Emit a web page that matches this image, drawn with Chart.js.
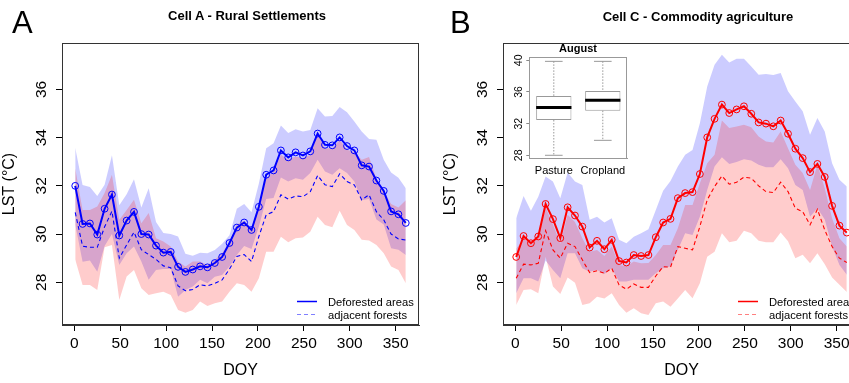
<!DOCTYPE html>
<html>
<head>
<meta charset="utf-8">
<script src="https://cdn.jsdelivr.net/npm/chart.js@4.4.1/dist/chart.umd.min.js"></script>
<style>
html,body{margin:0;padding:0;overflow:hidden;background:#fff;}
body{width:849px;height:383px;position:relative;font-family:"Liberation Sans",Arial,sans-serif;color:#000;}
.abs{position:absolute;white-space:nowrap;line-height:1;}
.panel{position:absolute;top:0;width:430px;height:383px;}
.lg{position:absolute;width:22px;height:20px;}
</style>
</head>
<body>
<div class="panel" style="left:0"><canvas id="cA" width="430" height="383"></canvas></div>
<div class="panel" style="left:441px"><canvas id="cB" width="430" height="383"></canvas></div>
<div style="position:absolute;left:500px;top:40px;width:140px;height:140px"><canvas id="cI" width="140" height="140"></canvas></div>

<div class="abs" style="left:12px;top:7px;font-size:31px">A</div>
<div class="abs" style="left:450px;top:7px;font-size:31px">B</div>
<div class="abs" style="left:147px;top:9px;width:200px;text-align:center;font-size:13px;font-weight:bold">Cell A - Rural Settlements</div>
<div class="abs" style="left:578px;top:10px;width:240px;text-align:center;font-size:13px;font-weight:bold">Cell C - Commodity agriculture</div>
<div class="abs" style="left:538px;top:43px;width:80px;text-align:center;font-size:11px;font-weight:bold">August</div>

<svg class="lg" style="left:296px;top:295px" width="22" height="22"><line x1="1" y1="6.5" x2="21" y2="6.5" stroke="#0000ff" stroke-width="1.5"/><line x1="1" y1="20" x2="21" y2="20" stroke="#0000ff" stroke-width="1.2" stroke-dasharray="4,3"/></svg>
<div class="abs" style="left:328px;top:296.5px;font-size:11.2px">Deforested areas</div>
<div class="abs" style="left:328px;top:309.8px;font-size:11.2px">adjacent forests</div>
<svg class="lg" style="left:737px;top:295px" width="22" height="22"><line x1="1" y1="6.5" x2="21" y2="6.5" stroke="#ff0000" stroke-width="1.5"/><line x1="1" y1="20" x2="21" y2="20" stroke="#ff0000" stroke-width="1.2" stroke-dasharray="4,3"/></svg>
<div class="abs" style="left:769px;top:296.5px;font-size:11.2px">Deforested areas</div>
<div class="abs" style="left:769px;top:309.8px;font-size:11.2px">adjacent forests</div>

<script>
// ---- data ----
const doy = [1,9,17,25,33,41,49,57,65,73,81,89,97,105,113,121,129,137,145,153,161,169,177,185,193,201,209,217,225,233,241,249,257,265,273,281,289,297,305,313,321,329,337,345,353,361];
const xTicks = [0,50,100,150,200,250,300,350];
const yTicks = [28,30,32,34,36];

// Panel A - Cell A (Rural settlements)
const aDef   = [32.0,30.42,30.44,29.98,31.05,31.64,29.94,30.56,30.92,30.0,29.98,29.52,29.23,29.26,28.64,28.43,28.53,28.66,28.62,28.8,29.05,29.63,30.27,30.48,30.17,31.13,32.46,32.64,33.47,33.18,33.39,33.26,33.43,34.17,33.70,33.68,34.01,33.65,33.47,32.85,32.80,32.22,31.79,30.94,30.82,30.46];
const aFor   = [30.9,29.5,29.45,29.45,30.3,30.95,29.0,29.55,30.08,29.35,29.15,28.95,28.68,28.6,27.85,27.65,27.7,27.9,27.85,27.95,28.1,28.55,29.07,29.15,28.86,29.9,30.8,30.93,31.63,31.45,31.58,31.55,31.76,32.43,32.04,31.97,32.5,32.18,32.04,31.42,31.63,30.93,30.59,30.0,29.8,29.75];
const aDefHi = [33.58,32.04,31.95,31.58,32.05,33.27,31.2,31.65,32.27,31.1,31.9,30.5,30.04,30.0,29.9,29.18,29.1,29.23,29.2,29.34,29.6,29.95,31.05,31.25,30.9,32.1,33.56,33.77,34.5,34.19,34.35,34.25,34.32,35.22,34.88,34.9,35.27,35.05,34.67,34.25,33.94,33.91,33.08,32.55,32.34,31.9];
const aDefLo = [30.4,28.85,28.9,28.44,29.5,30.0,28.72,29.2,29.48,28.86,28.1,28.51,28.55,28.55,27.4,27.68,27.82,28.1,27.96,28.23,28.3,28.65,29.13,29.5,29.38,30.3,31.45,31.5,32.35,32.18,32.32,32.25,32.53,33.08,32.6,32.46,32.73,32.53,32.18,31.4,31.45,30.6,30.4,29.41,29.35,29.13];
const aForHi = [32.73,31.0,31.0,31.14,31.7,32.46,30.59,31.0,31.42,30.45,30.87,29.83,29.69,29.48,28.86,28.65,28.86,28.86,28.72,28.93,29.2,29.69,30.4,30.55,30.2,31.28,32.3,32.6,33.29,33.08,33.22,33.15,33.29,34.16,33.56,33.56,33.91,33.5,33.4,33.08,33.2,32.3,31.8,31.25,31.1,31.4];
const aForLo = [28.95,27.89,27.89,27.68,29.45,29.55,27.26,28.24,28.51,27.75,27.47,27.54,27.61,27.47,26.85,26.74,26.85,27.2,27.02,27.13,27.2,27.61,27.96,27.89,27.61,28.17,29.27,29.27,29.89,29.66,29.83,29.86,30.1,30.72,30.38,30.28,30.97,30.38,30.17,29.76,29.73,29.55,29.2,28.65,28.51,27.96];

// Panel B - Cell C (Commodity agriculture)
const bDef   = [29.05,29.92,29.62,29.9,31.25,30.62,29.83,31.11,30.77,30.31,29.44,29.72,29.37,29.76,28.88,28.82,29.13,29.09,29.13,29.87,30.48,30.63,31.49,31.7,31.74,32.49,34.01,34.78,35.37,35.02,35.17,35.3,34.99,34.63,34.58,34.47,34.71,34.16,33.54,33.15,32.57,32.91,32.37,31.17,30.35,30.06];
const bFor   = [28.17,28.75,28.72,28.79,30.14,29.34,29.0,29.62,29.48,28.93,28.4,28.48,28.37,28.58,27.89,27.71,27.93,27.79,27.79,28.26,28.65,28.62,29.48,29.41,29.34,30.31,31.42,31.97,32.41,32.07,32.15,32.36,32.32,32.0,31.76,31.72,32.15,31.76,31.07,30.93,30.38,31.03,30.17,29.48,29.0,28.82];
const bDefHi = [30.66,31.58,30.97,31.55,32.39,32.18,31.49,32.55,32.18,32.04,30.59,30.72,30.48,30.66,29.76,29.62,29.89,30.03,30.2,31.0,31.8,32.2,32.8,33.29,33.49,34.6,36.12,37.02,37.44,37.12,37.27,37.27,36.95,36.61,36.64,36.6,36.68,35.92,35.5,35.09,34.12,34.81,34.25,32.94,32.25,31.97];
const bDefLo = [27.54,28.17,28.17,28.03,28.9,28.51,28.17,29.2,29.2,28.58,28.44,28.51,28.34,28.58,28.03,28.03,28.1,28.1,28.1,28.37,28.58,28.65,29.34,30.03,29.96,30.72,31.83,32.8,33.19,32.91,32.99,33.1,33.05,32.87,32.77,32.77,33.1,32.73,32.04,31.83,30.72,31.07,30.6,29.48,28.72,28.31];
const bForHi = [29.4,29.76,29.69,29.9,31.1,30.4,29.6,30.8,30.5,29.83,29.27,29.34,29.09,29.48,28.72,28.67,28.86,28.79,28.8,29.13,29.55,29.55,30.24,31.21,31.21,32.11,32.94,33.29,34.71,34.4,34.46,34.53,34.43,34.05,33.84,33.8,34.25,33.56,32.87,32.53,31.83,32.87,31.9,30.66,29.83,29.48];
const bForLo = [27.06,27.68,27.71,27.54,29.06,27.82,27.51,28.2,27.98,27.06,27.13,27.4,27.33,27.54,27.06,26.74,26.92,26.72,26.64,27.13,27.2,26.99,27.33,27.68,27.34,27.96,29.06,29.27,30.03,29.66,29.72,30.14,30.03,29.72,29.66,29.66,30.06,29.7,29.0,29.14,28.79,29.2,28.75,28.2,27.9,27.6];

// Inset boxplot (August)
const boxCats = ['Pasture','Cropland'];
const boxMin  = [28.0, 29.89];
const boxQ1   = [32.46, 33.64];
const boxMed  = [34.05, 34.94];
const boxQ3   = [35.49, 36.12];
const boxMax  = [39.87, 39.87];
const boxTicks = [28,32,36,40];

// ---- rendering ----
const FONT = '"Liberation Sans", Arial, sans-serif';
const BLUE_BAND = 'rgba(0,0,255,0.2)';
const RED_BAND = 'rgba(255,0,0,0.2)';

const frame = {
  id: 'frame',
  afterDraw(chart, args, opts) {
    const a = chart.chartArea, c = chart.ctx;
    c.save();
    c.strokeStyle = opts.color || '#333';
    c.lineWidth = 1;
    c.strokeRect(Math.round(a.left) + 0.5, Math.round(a.top) + 0.5, Math.round(a.right - a.left) - 1, Math.round(a.bottom - a.top) - 1);
    c.restore();
  }
};

function pts(arr) { return doy.map((d, i) => ({x: d, y: arr[i]})); }

function mainChart(id, def, forr, defHi, defLo, forHi, forLo, col) {
  return new Chart(document.getElementById(id), {
    type: 'line',
    data: {
      datasets: [
        {data: pts(def), borderColor: col, borderWidth: 2, pointRadius: 3.4, pointStyle: 'circle',
         pointBorderColor: col, pointBackgroundColor: 'rgba(0,0,0,0)', pointBorderWidth: 1, fill: false},
        {data: pts(forr), borderColor: col, borderWidth: 1.1, borderDash: [4, 3], pointRadius: 0, fill: false},
        {data: pts(forHi), borderWidth: 0, borderColor: 'rgba(0,0,0,0)', pointRadius: 0, fill: '+1', backgroundColor: RED_BAND},
        {data: pts(forLo), borderWidth: 0, borderColor: 'rgba(0,0,0,0)', pointRadius: 0, fill: false},
        {data: pts(defHi), borderWidth: 0, borderColor: 'rgba(0,0,0,0)', pointRadius: 0, fill: '+1', backgroundColor: BLUE_BAND},
        {data: pts(defLo), borderWidth: 0, borderColor: 'rgba(0,0,0,0)', pointRadius: 0, fill: false}
      ]
    },
    options: {
      responsive: false, animation: false,
      layout: {padding: {top: 43, right: 11, left: 0, bottom: 0}},
      elements: {line: {tension: 0}},
      plugins: {legend: {display: false}, tooltip: {enabled: false}, frame: {color: '#333'}},
      scales: {
        x: {
          type: 'linear', min: -13.4, max: 375.4,
          afterBuildTicks: s => { s.ticks = xTicks.map(v => ({value: v})); },
          afterFit: s => { s.height = 58; },
          ticks: {font: {family: FONT, size: 15.5}, color: '#000', padding: 3, maxRotation: 0, autoSkip: false},
          grid: {display: true, drawOnChartArea: false, drawTicks: true, tickLength: 6, color: '#000'},
          border: {display: true, color: '#333'},
          title: {display: true, text: 'DOY', font: {family: FONT, size: 16}, color: '#000', padding: {top: 0, bottom: 3}}
        },
        y: {
          type: 'linear', min: 26.228, max: 37.925,
          afterBuildTicks: s => { s.ticks = yTicks.map(v => ({value: v})); },
          afterFit: s => { s.width = 62; },
          ticks: {font: {family: FONT, size: 15.5}, color: '#000', padding: 6, minRotation: 90, maxRotation: 90, crossAlign: 'center', autoSkip: false},
          grid: {display: true, drawOnChartArea: false, drawTicks: true, tickLength: 6, color: '#000'},
          border: {display: true, color: '#333'},
          title: {display: true, text: 'LST (°C)', font: {family: FONT, size: 16}, color: '#000', padding: {top: 0, bottom: 5}}
        }
      }
    },
    plugins: [frame]
  });
}

mainChart('cA', aDef, aFor, aDefHi, aDefLo, aForHi, aForLo, '#0000ff');
mainChart('cB', bDef, bFor, bDefHi, bDefLo, bForHi, bForLo, '#ff0000');

const boxParts = {
  id: 'boxParts',
  afterDatasetsDraw(chart) {
    const xs = chart.scales.x, ys = chart.scales.y, c = chart.ctx;
    const meta = chart.getDatasetMeta(0);
    c.save();
    boxCats.forEach((cat, i) => {
      const x = xs.getPixelForValue(i);
      const bw = meta.data[i].width;
      const capHalf = bw / 4;
      c.strokeStyle = '#999'; c.lineWidth = 1; c.setLineDash([1.5, 1.5]);
      c.beginPath();
      c.moveTo(x, ys.getPixelForValue(boxMax[i])); c.lineTo(x, ys.getPixelForValue(boxQ3[i]));
      c.moveTo(x, ys.getPixelForValue(boxQ1[i])); c.lineTo(x, ys.getPixelForValue(boxMin[i]));
      c.stroke();
      c.setLineDash([]);
      c.beginPath();
      c.moveTo(x - capHalf, ys.getPixelForValue(boxMax[i])); c.lineTo(x + capHalf, ys.getPixelForValue(boxMax[i]));
      c.moveTo(x - capHalf, ys.getPixelForValue(boxMin[i])); c.lineTo(x + capHalf, ys.getPixelForValue(boxMin[i]));
      c.stroke();
      c.strokeStyle = '#000'; c.lineWidth = 3;
      c.beginPath();
      c.moveTo(x - bw / 2, ys.getPixelForValue(boxMed[i])); c.lineTo(x + bw / 2, ys.getPixelForValue(boxMed[i]));
      c.stroke();
    });
    c.restore();
  }
};

new Chart(document.getElementById('cI'), {
  type: 'bar',
  data: {
    labels: boxCats,
    datasets: [{
      data: boxCats.map((c, i) => [boxQ1[i], boxQ3[i]]),
      backgroundColor: '#fff', borderColor: '#999', borderWidth: 1, borderSkipped: false,
      barPercentage: 0.72, categoryPercentage: 1
    }]
  },
  options: {
    responsive: false, animation: false,
    layout: {padding: {top: 17, right: 12.7, left: 0, bottom: 0}},
    plugins: {legend: {display: false}, tooltip: {enabled: false}, frame: {color: '#999'}},
    scales: {
      x: {
        afterFit: s => { s.height = 21.3; },
        ticks: {font: {family: FONT, size: 11}, color: '#000', padding: -2, minRotation: 0, maxRotation: 0, autoSkip: false},
        grid: {display: false},
        border: {display: true, color: '#999'}
      },
      y: {
        min: 27.57, max: 40.42,
        afterBuildTicks: s => { s.ticks = boxTicks.map(v => ({value: v})); },
        afterFit: s => { s.width = 29.3; },
        ticks: {font: {family: FONT, size: 10.5}, color: '#000', padding: 1, minRotation: 90, maxRotation: 90, crossAlign: 'center', autoSkip: false},
        grid: {display: true, drawOnChartArea: false, drawTicks: true, tickLength: 3, color: '#888'},
        border: {display: true, color: '#999'}
      }
    }
  },
  plugins: [frame, boxParts]
});
</script>
</body>
</html>
